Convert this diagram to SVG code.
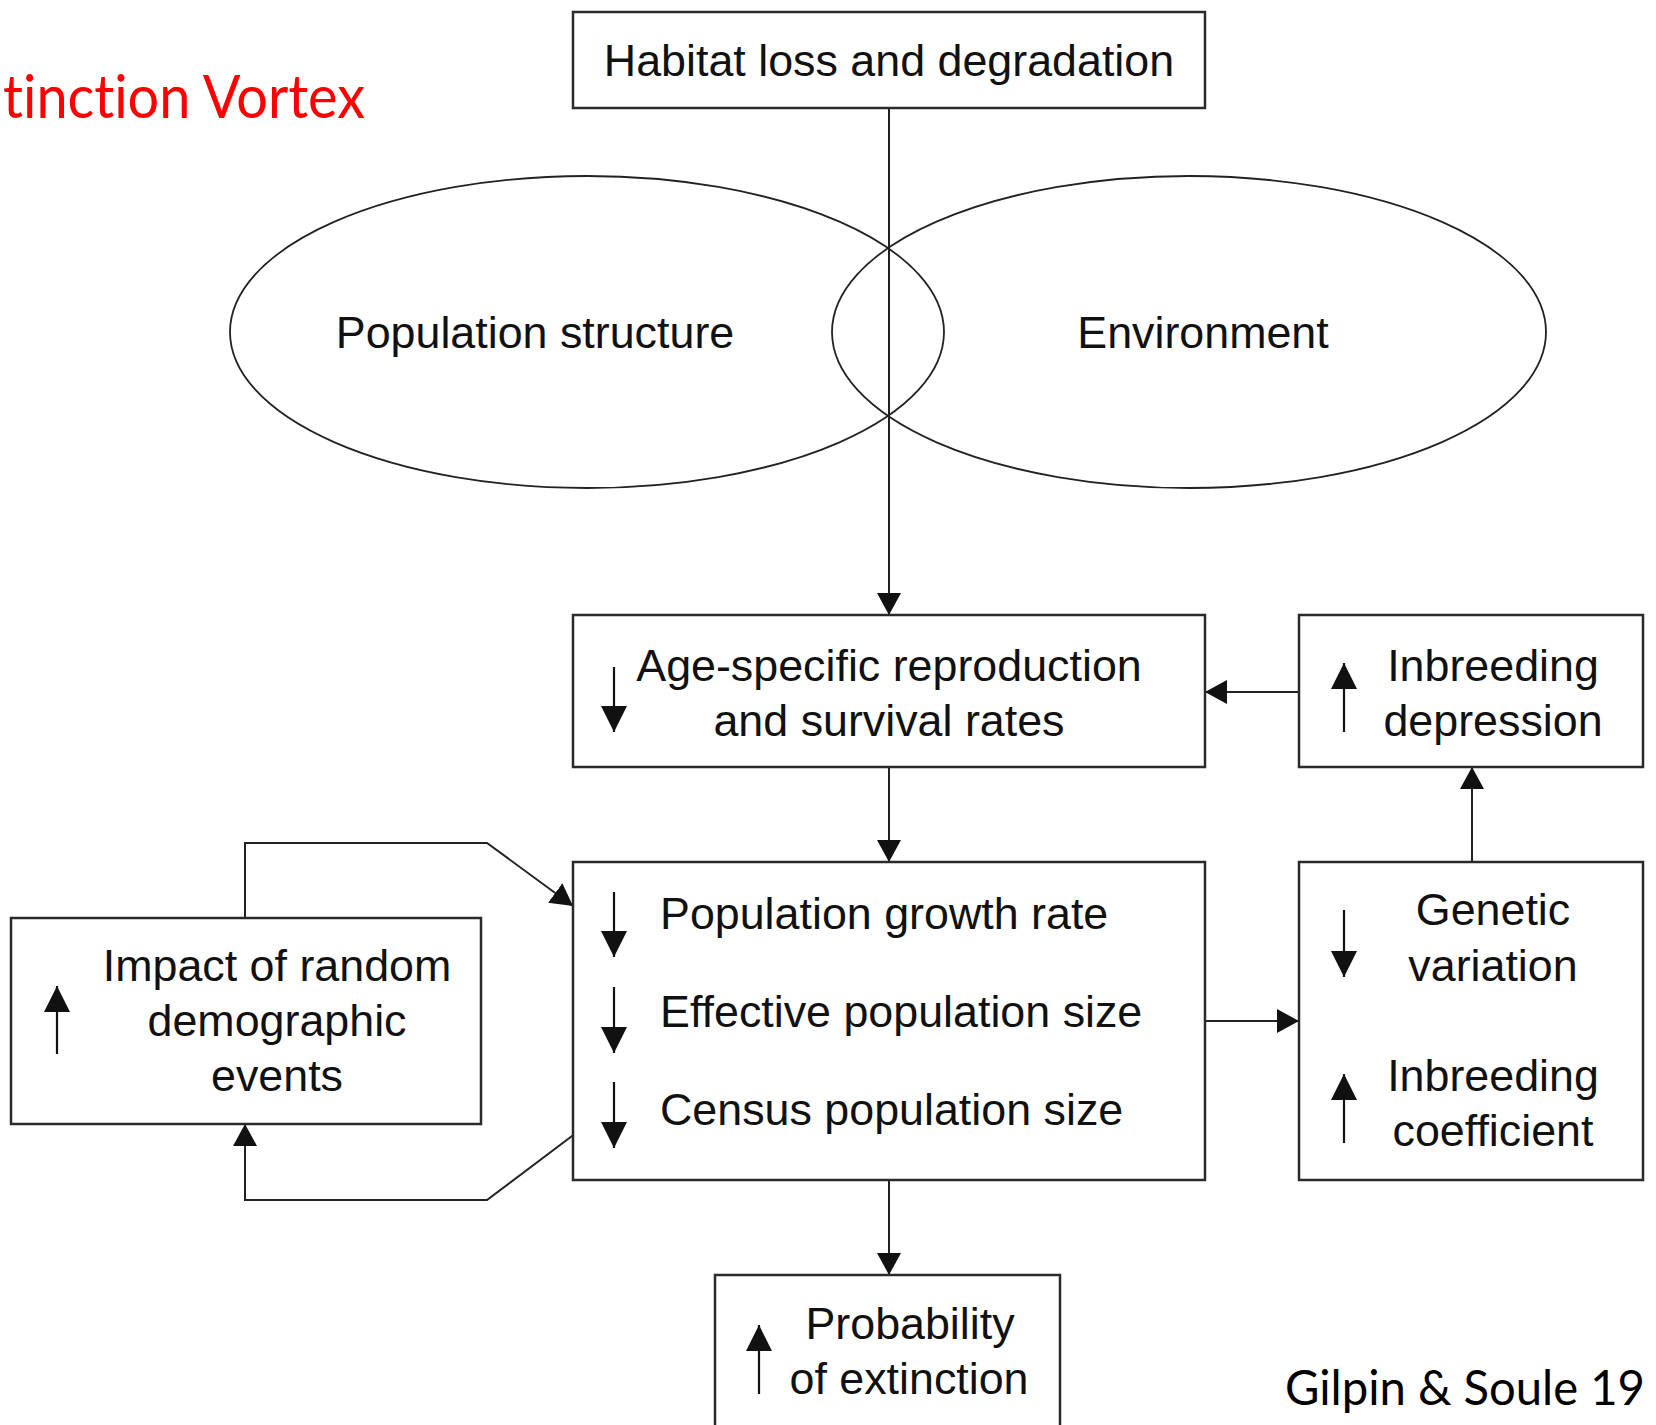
<svg xmlns="http://www.w3.org/2000/svg" width="1656" height="1425" viewBox="0 0 1656 1425">
<defs>
<style>
.box{fill:#fff;stroke:#2a2a2a;stroke-width:2.5}
.ell{fill:none;stroke:#222;stroke-width:1.8}
.t{font-family:"Liberation Sans",Arial,sans-serif;font-size:44.8px;fill:#111}
.c{text-anchor:middle}
.cal{font-family:Lato,"Open Sans",sans-serif;font-variant-ligatures:none}
.ln{fill:none;stroke:#222;stroke-width:2}
.ia{stroke:#111;stroke-width:2.2}
</style>
<marker id="ah" viewBox="0 0 22 24" refX="22" refY="12" markerWidth="22" markerHeight="24" markerUnits="userSpaceOnUse" orient="auto">
<path d="M0,0 L22,12 L0,24 z" fill="#111"/>
</marker>
<marker id="sh" viewBox="0 0 26 26" refX="26" refY="13" markerWidth="26" markerHeight="26" markerUnits="userSpaceOnUse" orient="auto">
<path d="M0,0 L26,13 L0,26 z" fill="#111"/>
</marker>
</defs>
<rect width="1656" height="1425" fill="#fff"/>

<text class="cal" x="3" y="118" textLength="362" lengthAdjust="spacingAndGlyphs" font-size="60" fill="#ff0000">tinction Vortex</text>
<text class="cal" x="1285" y="1405" textLength="360" lengthAdjust="spacingAndGlyphs" font-size="48" fill="#000">Gilpin &amp; Soule 19</text>

<g id="ellipses">
<ellipse class="ell" cx="587" cy="332" rx="357" ry="156"/>
<ellipse class="ell" cx="1189" cy="332" rx="357" ry="156"/>
</g>

<g id="connectors">
<line class="ln" x1="889" y1="108" x2="889" y2="615" marker-end="url(#ah)"/>
<line class="ln" x1="1299" y1="692" x2="1205" y2="692" marker-end="url(#ah)"/>
<line class="ln" x1="889" y1="767" x2="889" y2="862" marker-end="url(#ah)"/>
<line class="ln" x1="1205" y1="1021" x2="1299" y2="1021" marker-end="url(#ah)"/>
<line class="ln" x1="1472" y1="862" x2="1472" y2="767" marker-end="url(#ah)"/>
<line class="ln" x1="889" y1="1180" x2="889" y2="1275" marker-end="url(#ah)"/>
<polyline class="ln" points="245,918 245,843 487,843 573,906" marker-end="url(#ah)"/>
<polyline class="ln" points="576,1133 487,1200 245,1200 245,1124" marker-end="url(#ah)"/>
</g>

<g id="habitat">
<rect class="box" x="573" y="12" width="632" height="96"/>
<text class="t c" x="889" y="76">Habitat loss and degradation</text>
</g>

<g id="population-structure">
<text class="t c" x="535" y="348">Population structure</text>
</g>

<g id="environment">
<text class="t c" x="1203" y="348">Environment</text>
</g>

<g id="age-specific">
<rect class="box" x="573" y="615" width="632" height="152"/>
<line class="ia" x1="614" y1="667" x2="614" y2="732" marker-end="url(#sh)"/>
<text class="t c" x="889" y="681">Age-specific reproduction</text>
<text class="t c" x="889" y="736">and survival rates</text>
</g>

<g id="inbreeding-depression">
<rect class="box" x="1299" y="615" width="344" height="152"/>
<line class="ia" x1="1344" y1="732" x2="1344" y2="663" marker-end="url(#sh)"/>
<text class="t c" x="1493" y="681">Inbreeding</text>
<text class="t c" x="1493" y="736">depression</text>
</g>

<g id="population-box">
<rect class="box" x="573" y="862" width="632" height="318"/>
<line class="ia" x1="614" y1="892" x2="614" y2="957" marker-end="url(#sh)"/>
<line class="ia" x1="614" y1="987" x2="614" y2="1053" marker-end="url(#sh)"/>
<line class="ia" x1="614" y1="1082" x2="614" y2="1148" marker-end="url(#sh)"/>
<text class="t" x="660" y="929">Population growth rate</text>
<text class="t" x="660" y="1027">Effective population size</text>
<text class="t" x="660" y="1125">Census population size</text>
</g>

<g id="genetic">
<rect class="box" x="1299" y="862" width="344" height="318"/>
<line class="ia" x1="1344" y1="910" x2="1344" y2="977" marker-end="url(#sh)"/>
<line class="ia" x1="1344" y1="1143" x2="1344" y2="1074" marker-end="url(#sh)"/>
<text class="t c" x="1493" y="925">Genetic</text>
<text class="t c" x="1493" y="981">variation</text>
<text class="t c" x="1493" y="1091">Inbreeding</text>
<text class="t c" x="1493" y="1146">coefficient</text>
</g>

<g id="impact">
<rect class="box" x="11" y="918" width="470" height="206"/>
<line class="ia" x1="57" y1="1054" x2="57" y2="986" marker-end="url(#sh)"/>
<text class="t c" x="277" y="981">Impact of random</text>
<text class="t c" x="277" y="1036">demographic</text>
<text class="t c" x="277" y="1091">events</text>
</g>

<g id="probability">
<rect class="box" x="715" y="1275" width="345" height="170"/>
<line class="ia" x1="759" y1="1394" x2="759" y2="1325" marker-end="url(#sh)"/>
<text class="t c" x="910" y="1339">Probability</text>
<text class="t c" x="909" y="1394">of extinction</text>
</g>
</svg>
